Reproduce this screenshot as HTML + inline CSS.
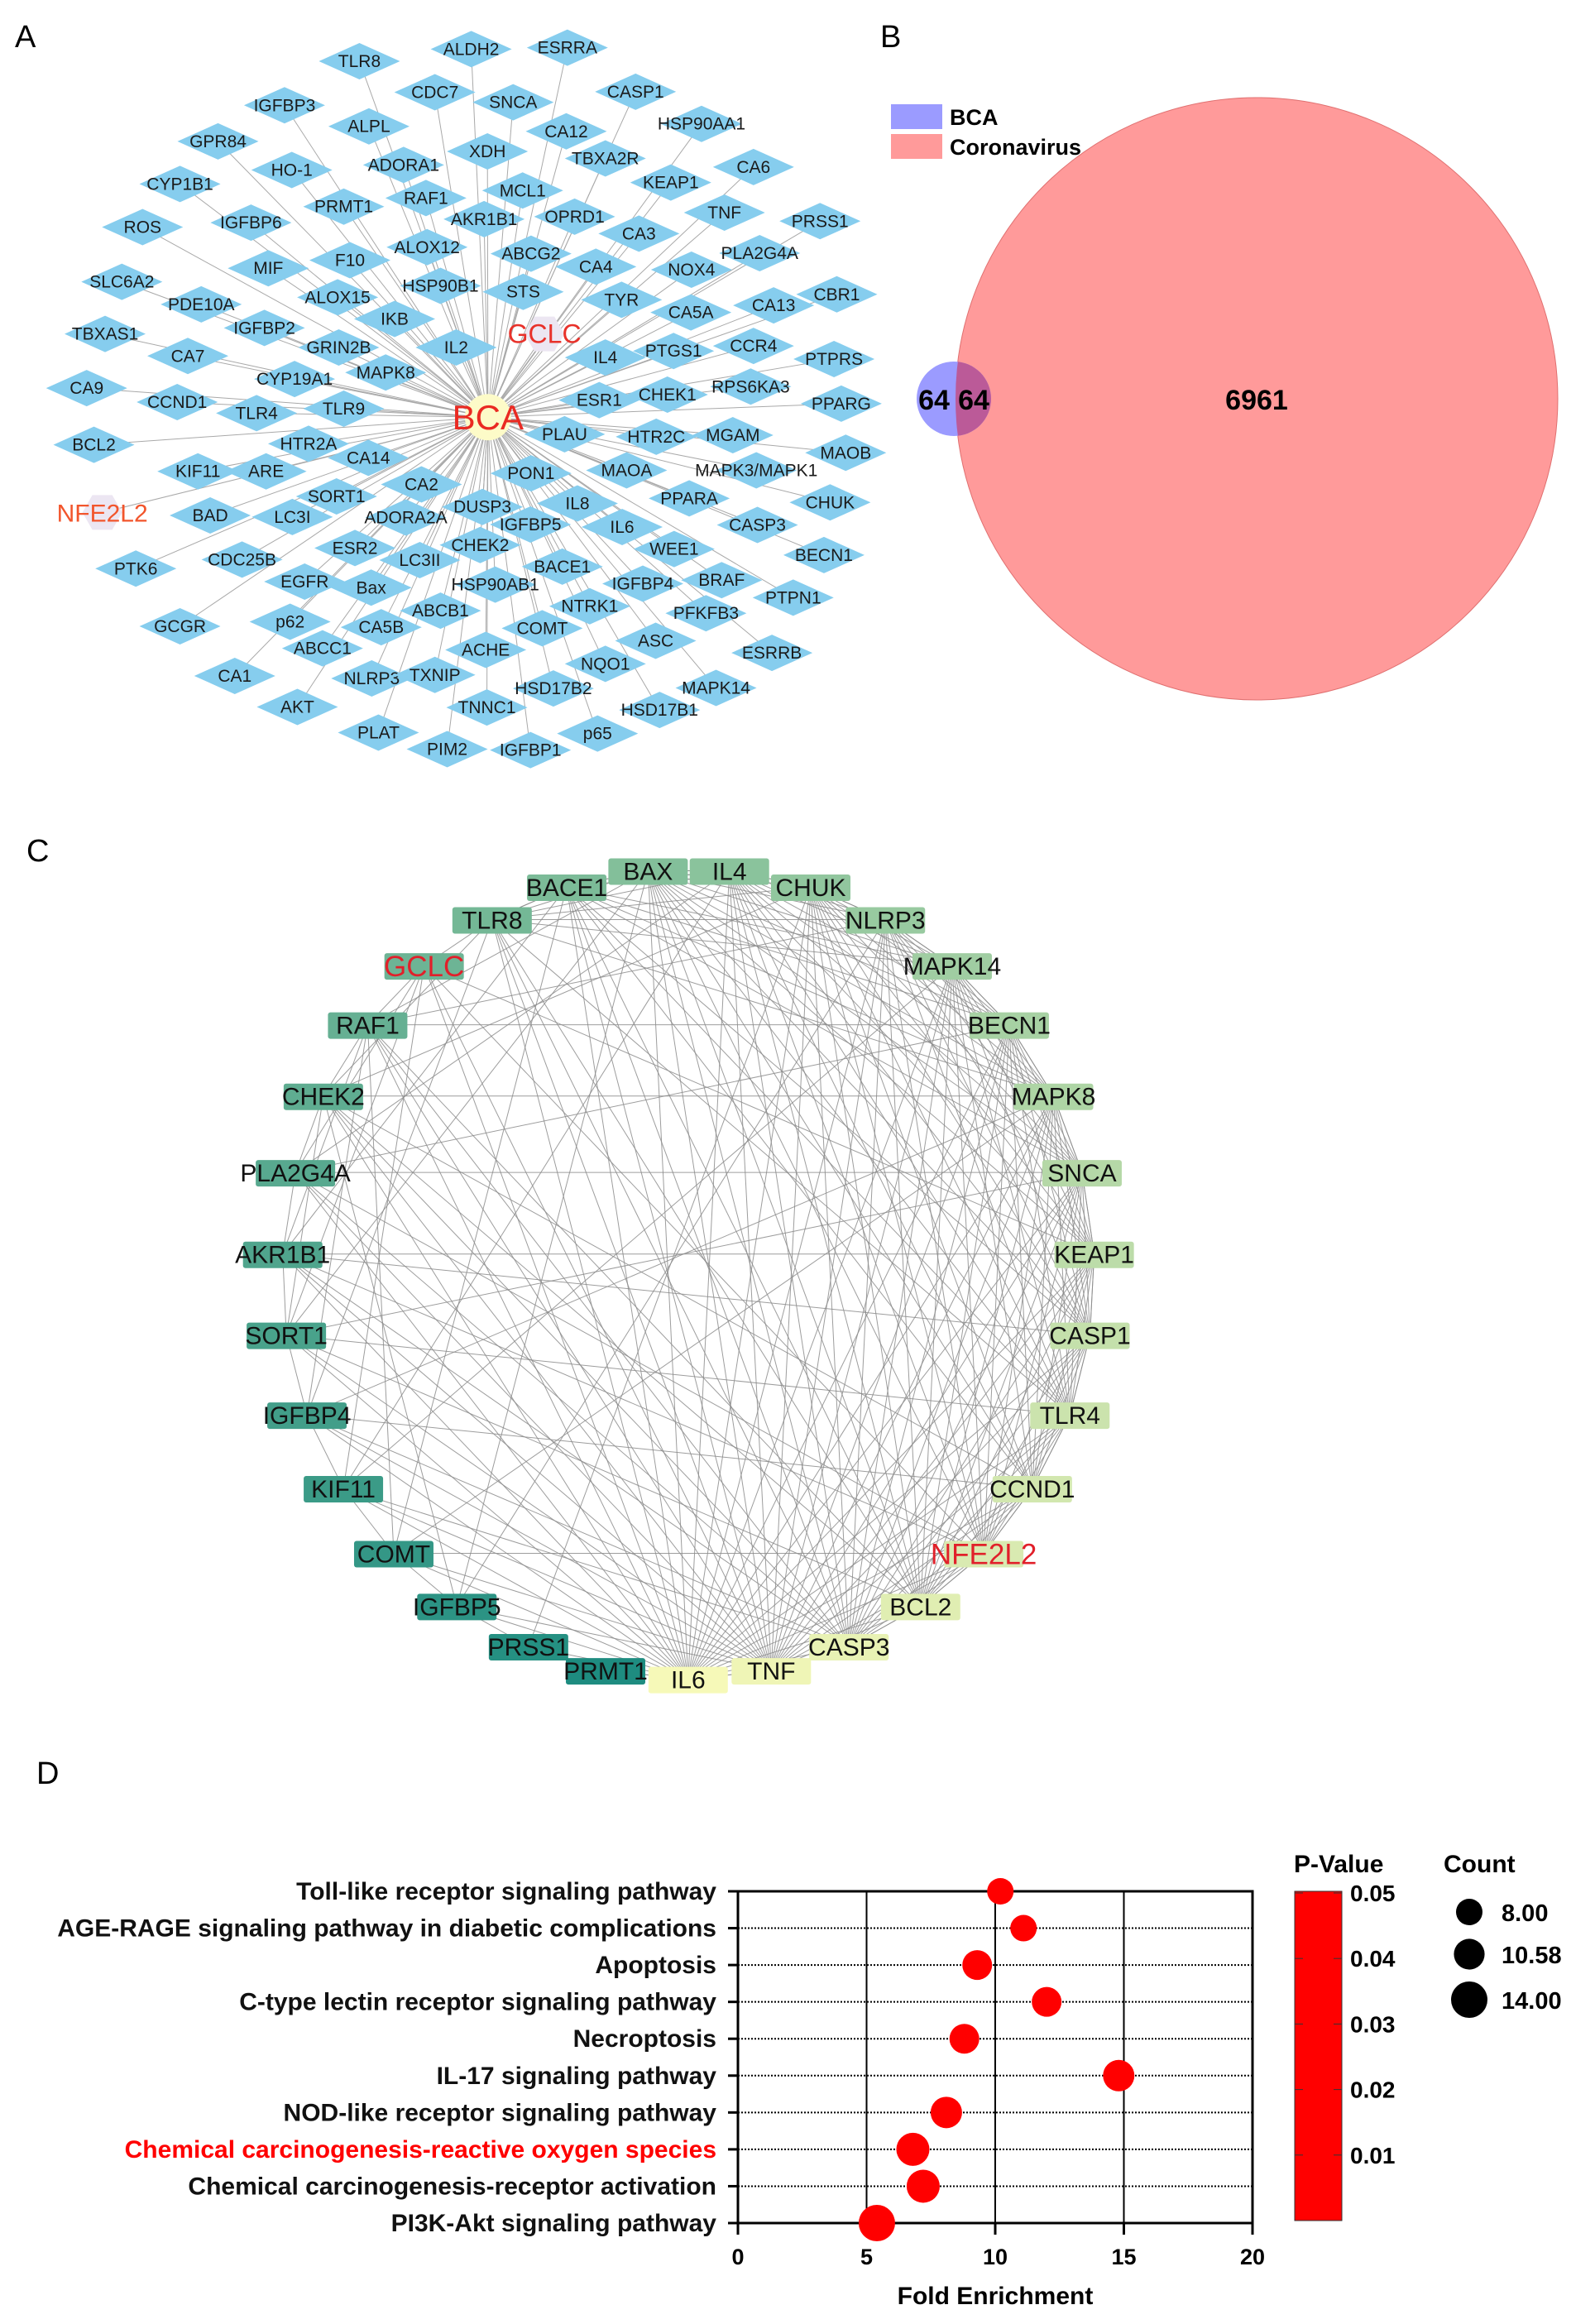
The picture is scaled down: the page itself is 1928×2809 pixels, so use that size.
<!DOCTYPE html>
<html><head><meta charset="utf-8">
<style>
html,body{margin:0;padding:0;background:#fff;}
svg{display:block;font-family:"Liberation Sans",Arial,sans-serif;}
</style></head>
<body>
<svg id="fig" width="1928" height="2809" viewBox="0 0 1928 2809" xmlns="http://www.w3.org/2000/svg">
<text x="18" y="57" font-size="38">A</text>
<text x="1064" y="57" font-size="38">B</text>
<text x="32" y="1041" font-size="38">C</text>
<text x="44" y="2156" font-size="38">D</text>
<g id="panelA"></g>
<g id="panelB"></g>
<g id="panelC"></g>
<g id="panelD"></g>
</svg>
<script>
const NS="http://www.w3.org/2000/svg";
function mk(tag,attrs,parent){const e=document.createElementNS(NS,tag);for(const k in attrs)e.setAttribute(k,attrs[k]);if(parent)parent.appendChild(e);return e;}

/* ---------- Panel A ---------- */
const aNames=["TLR8","ALDH2","ESRRA","CDC7","SNCA","CASP1","IGFBP3","ALPL","CA12","HSP90AA1","GPR84","XDH","TBXA2R","HO-1","ADORA1","CA6","CYP1B1","KEAP1","MCL1","RAF1","PRMT1","AKR1B1","OPRD1","TNF","PRSS1","ROS","IGFBP6","CA3","ALOX12","ABCG2","PLA2G4A","MIF","F10","CA4","NOX4","SLC6A2","HSP90B1","STS","ALOX15","TYR","CBR1","PDE10A","CA5A","CA13","IKB","IGFBP2","TBXAS1","IL2","GRIN2B","IL4","PTGS1","CCR4","PTPRS","CA7","CYP19A1","MAPK8","CA9","RPS6KA3","CHEK1","ESR1","PPARG","CCND1","TLR4","TLR9","PLAU","HTR2C","MGAM","BCL2","HTR2A","MAOB","CA14","KIF11","ARE","PON1","MAOA","MAPK3/MAPK1","CA2","PPARA","CHUK","SORT1","BAD","LC3I","ADORA2A","DUSP3","IL8","IGFBP5","IL6","CASP3","BECN1","ESR2","CHEK2","WEE1","CDC25B","LC3II","BACE1","PTK6","EGFR","Bax","HSP90AB1","IGFBP4","BRAF","PTPN1","ABCB1","NTRK1","PFKFB3","GCGR","p62","CA5B","COMT","ASC","ESRRB","ABCC1","ACHE","CA1","NLRP3","TXNIP","NQO1","HSD17B2","MAPK14","AKT","TNNC1","HSD17B1","PLAT","p65","PIM2","IGFBP1"];
const aZX=[643,843,1015,778,918,1137,509,660,1013,1255,390,872,1083,522,722,1348,322,1200,935,762,615,866,1028,1296,1467,255,449,1143,764,950,1359,480,626,1066,1237,218,788,936,604,1112,1497,360,1236,1384,706,473,188,816,606,1083,1205,1348,1492,336,527,690,155,1343,1194,1072,1505,317,459,615,1010,1174,1311,168,552,1513,659,354,476,950,1121,1353,754,1233,1485,602,376,523,726,863,1033,949,1113,1355,1474,635,859,1206,433,751,1006,243,545,664,886,1150,1291,1419,788,1055,1263,322,519,682,970,1173,1381,577,869,420,665,778,1083,990,1281,532,871,1180,677,1069,800,949];
const aZY=[122,98,95,184,204,183,210,252,262,247,282,302,316,339,329,333,367,364,380,395,412,437,432,424,441,453,444,466,493,506,505,535,519,532,538,562,570,582,593,598,587,607,623,609,636,654,666,693,693,713,700,690,716,710,756,743,774,771,787,798,805,802,824,815,866,871,868,887,885,903,913,940,940,944,938,938,966,994,1002,990,1028,1031,1032,1011,1004,1046,1051,1047,1107,1093,1087,1095,1116,1117,1130,1134,1160,1172,1166,1164,1157,1192,1218,1209,1223,1249,1240,1251,1253,1278,1302,1293,1296,1348,1353,1346,1324,1373,1372,1410,1411,1416,1461,1463,1494,1496];
const A=document.getElementById('panelA');
const cx=873/1.48, cy=832/1.65;
const gE=mk('g',{stroke:'#a9a9a9','stroke-width':1},A);


const specials=[["GCLC",974,666,"#e8312a",32],["NFE2L2",183,1022,"#f2552c",30]];
for(let i=0;i<aNames.length;i++){
  mk('line',{x1:cx,y1:cy,x2:aZX[i]/1.48,y2:aZY[i]/1.65},gE);
}
for(const s of specials){ mk('line',{x1:cx,y1:cy,x2:s[1]/1.48,y2:s[2]/1.65},gE); }
for(let i=0;i<aNames.length;i++){
  const x=aZX[i]/1.48,y=aZY[i]/1.65;
  const g=mk('g',{},A);
  
  
  mk('polygon',{points:`${x-49},${y} ${x},${y-22} ${x+49},${y} ${x},${y+22}`,fill:'#86cdee'},g);
  const t=mk('text',{x:x,y:y+7,'font-size':21,'text-anchor':'middle',fill:'#1a1a1a'},g);
  t.textContent=aNames[i];
}
for(const s of specials){
  const x=s[1]/1.48,y=s[2]/1.65;
  const g=mk('g',{},A);
  
  
  mk('polygon',{points:`${x-24},${y} ${x-12},${y-21} ${x+12},${y-21} ${x+24},${y} ${x+12},${y+21} ${x-12},${y+21}`,fill:'#ece6f2'},g);
  const t=mk('text',{x:x,y:y+11,'font-size':s[4],'text-anchor':'middle',fill:s[3]},g);
  t.textContent=s[0];
}
{
  const g=mk('g',{},A);
  
  
  mk('circle',{cx:cx,cy:cy,r:28,fill:'#fdfbc8'},g);
  const t=mk('text',{x:cx,y:cy+15,'font-size':42,'text-anchor':'middle',fill:'#ea2a22'},g);
  t.textContent="BCA";
}

/* ---------- Panel B ---------- */
const vennLabels=["BCA","Coronavirus"];
const vennCounts=[64,64,6961];
const B=document.getElementById('panelB');
{
  const big=mk('circle',{cx:1519,cy:482,r:364,fill:'#ff9a9a',stroke:'#e07070','stroke-width':1},B);
  
  
  const defs=mk('defs',{},B);
  const cp=mk('clipPath',{id:'bigclip'},defs);
  mk('circle',{cx:1519,cy:482,r:364},cp);
  const sm=mk('circle',{cx:1153,cy:482,r:45,fill:'#9b9bff'},B);
  
  
  const ov=mk('circle',{cx:1153,cy:482,r:45,fill:'#bb5a98','clip-path':'url(#bigclip)'},B);
  
  
  const pos=[[1129,495],[1177,495],[1519,495]];
  vennCounts.forEach((v,i)=>{
    const t=mk('text',{x:pos[i][0],y:pos[i][1],'font-size':34,'font-weight':'bold','text-anchor':'middle'},B);
    
    
    t.textContent=v;
  });
  const cols=['#9b9bff','#ff9a9a'];
  vennLabels.forEach((l,i)=>{
    const r=mk('rect',{x:1077,y:126+i*36,width:62,height:30,fill:cols[i]},B);
    
    
    const t=mk('text',{x:1148,y:151+i*36,'font-size':27,'font-weight':'bold'},B);
    
    
    t.textContent=l;
  });
}

/* ---------- Panel C ---------- */
const cNames=["IL6","TNF","CASP3","BCL2","NFE2L2","CCND1","TLR4","CASP1","KEAP1","SNCA","MAPK8","BECN1","MAPK14","NLRP3","CHUK","IL4","BAX","BACE1","TLR8","GCLC","RAF1","CHEK2","PLA2G4A","AKR1B1","SORT1","IGFBP4","KIF11","COMT","IGFBP5","PRSS1","PRMT1"];
const cZX=[793,930,1058,1176,1280,1360,1422,1455,1462,1442,1395,1322,1228,1118,995,861,727,593,470,358,265,192,146,125,131,165,225,308,412,530,657];
const cZY=[1497,1482,1440,1370,1278,1165,1037,898,757,615,482,358,255,175,118,90,90,118,175,255,358,482,615,757,898,1037,1165,1278,1370,1440,1482];
const cEdges=[
 [0,"1 2 3 4 5 6 7 8 9 10 11 12 13 14 15 16 17 18 19 20 21 22 23 24 25 26 27 28 29 30"],
 [1,"2 3 4 5 6 7 8 9 10 11 12 13 14 15 16 17 18 19 20 21 22 23 24 25 26 27 28"],
 [2,"3 4 5 6 7 8 9 10 11 12 13 14 15 16 17 18 20 21 22 23 25 26"],
 [3,"4 5 6 7 8 9 10 11 12 13 14 15 16 17 18 20 21 24"],
 [4,"5 6 7 8 9 10 11 12 13 14 15 16 19 22 23 27"],
 [5,"6 7 8 9 10 11 12 14 15 16 17 21 25"],
 [6,"7 8 9 10 11 12 13 14 15 16 17 18 24"],
 [7,"8 9 10 11 12 13 14 15 16 17 23"],
 [8,"9 10 11 12 13 14 15 16 19 23"],
 [9,"10 11 12 13 14 15 16 17 22 24"],
 [10,"11 12 13 14 15 16 17 18 21 25 27"],
 [11,"12 13 14 15 16 17 20 22"],
 [12,"13 14 15 16 17 18 26"],
 [13,"14 15 16 18 20 28"],
 [14,"15 16 18 21 29"],
 [15,"16 17 18 22 26"],
 [16,"17 18 20 24 28"],
 [17,"18 23 27"],
 [18,"21 25"],
 [19,"22 24 26"],
 [20,"23 25 27"],
 [21,"24 28"]
];
const C=document.getElementById('panelC');
const cX=i=>250+cZX[i]/1.363, cY=i=>990+cZY[i]/1.44;
const gC=mk('g',{stroke:'#8c8c8c','stroke-width':1,fill:'none','stroke-opacity':0.85},C);


for(let i=0;i<cNames.length;i++){
  const j=(i+1)%cNames.length;
  mk('line',{x1:cX(i),y1:cY(i),x2:cX(j),y2:cY(j)},gC);
}
for(const [a,list] of cEdges){
  for(const b of list.split(' ').map(Number)){
    mk('line',{x1:cX(a),y1:cY(a),x2:cX(b),y2:cY(b)},gC);
  }
}
function lerp(a,b,t){return Math.round(a+(b-a)*t);}
const c0=[246,249,184],c1=[30,140,128];
for(let i=0;i<cNames.length;i++){
  const t=i/(cNames.length-1);
  const col=`rgb(${lerp(c0[0],c1[0],t)},${lerp(c0[1],c1[1],t)},${lerp(c0[2],c1[2],t)})`;
  const x=cX(i),y=cY(i);
  const g=mk('g',{},C);
  
  
  const red=(cNames[i]==="GCLC"||cNames[i]==="NFE2L2");
  mk('rect',{x:x-48,y:y-15,width:96,height:32,rx:3,fill:col},g);
  const tx=mk('text',{x:x,y:y+(red?13:11),'font-size':red?35:30,'text-anchor':'middle',fill:red?'#e1202a':'#111'},g);
  tx.textContent=cNames[i];
}

/* ---------- Panel D ---------- */
const pathways=["Toll-like receptor signaling pathway","AGE-RAGE signaling pathway in diabetic complications","Apoptosis","C-type lectin receptor signaling pathway","Necroptosis","IL-17 signaling pathway","NOD-like receptor signaling pathway","Chemical carcinogenesis-reactive oxygen species","Chemical carcinogenesis-receptor activation","PI3K-Akt signaling pathway"];
const foldEnrichment=[10.2,11.1,9.3,12.0,8.8,14.8,8.1,6.8,7.2,5.4];
const geneCount=[8,8,10,10,10,11,11,12,12,14];
const pValues=[0.004,0.003,0.002,0.003,0.002,0.001,0.001,0.001,0.001,0.004];
const xTicks=[0,5,10,15,20];
const pTicks=[0.05,0.04,0.03,0.02,0.01];
const sizeLegend=[8.00,10.58,14.00];
const D=document.getElementById('panelD');
const X0=892,X1=1514,Y0=2286,Y1=2687;
const xs=v=>X0+(v-0)/(20-0)*(X1-X0);
const ys=i=>Y0+i*(Y1-Y0)/(pathways.length-1);
const rs=c=>16+(c-8)/6*6;
const ps=p=>2684-(p/0.05)*(2684-2288);
xTicks.forEach(v=>{ if(v>0&&v<20){const l=mk('line',{x1:xs(v),y1:Y0,x2:xs(v),y2:Y1,stroke:'#000','stroke-width':2},D);
 
 }});
pathways.forEach((p,i)=>{
  const y=ys(i);
  if(i>0&&i<pathways.length-1){const l=mk('line',{x1:X0,y1:y,x2:X1,y2:y,stroke:'#000','stroke-width':2,'stroke-dasharray':'2 2'},D);
  
  }
  mk('line',{x1:X0-12,y1:y,x2:X0,y2:y,stroke:'#000','stroke-width':3},D);
  const t=mk('text',{x:X0-26,y:y+10,'font-size':30,'font-weight':'bold','text-anchor':'end',fill:i===7?'#f00':'#111'},D);
  
  
  t.textContent=p;
});
{
  const fr=mk('path',{d:`M${X0},${Y0} H${X1} V${Y1} H${X0} Z`,fill:'none',stroke:'#000','stroke-width':3},D);
  
  
}
xTicks.forEach(v=>{
  mk('line',{x1:xs(v),y1:Y1,x2:xs(v),y2:Y1+14,stroke:'#000','stroke-width':3},D);
  const t=mk('text',{x:xs(v),y:2737,'font-size':27,'font-weight':'bold','text-anchor':'middle'},D);
  
  
  t.textContent=v;
});
{
  const t=mk('text',{x:(X0+X1)/2,y:2785,'font-size':30,'font-weight':'bold','text-anchor':'middle'},D);
  
  
  t.textContent="Fold Enrichment";
}
pathways.forEach((p,i)=>{
  const c=mk('circle',{cx:xs(foldEnrichment[i]),cy:ys(i),r:rs(geneCount[i]),fill:'#ff0000'},D);
  
  
});
{
  const r=mk('rect',{x:1565,y:2286,width:57,height:398,fill:'#ff0000',stroke:'#333','stroke-width':1},D);
  
  
  const t=mk('text',{x:1564,y:2263,'font-size':30,'font-weight':'bold'},D);
  
  
  t.textContent="P-Value";
  pTicks.forEach(p=>{
    const y=ps(p);
    mk('line',{x1:1565,y1:y,x2:1575,y2:y,stroke:'#333','stroke-width':1},D);
    mk('line',{x1:1612,y1:y,x2:1622,y2:y,stroke:'#333','stroke-width':1},D);
    const l=mk('text',{x:1632,y:y+10,'font-size':28,'font-weight':'bold'},D);
    
    
    l.textContent=p.toFixed(2);
  });
  const ct=mk('text',{x:1745,y:2263,'font-size':30,'font-weight':'bold'},D);
  
  
  ct.textContent="Count";
  const ly=[2311,2362,2417];
  sizeLegend.forEach((s,i)=>{
    const c=mk('circle',{cx:1776,cy:ly[i],r:rs(s),fill:'#000'},D);
    
    
    const l=mk('text',{x:1815,y:ly[i]+11,'font-size':29,'font-weight':'bold'},D);
    
    
    l.textContent=s.toFixed(2);
  });
}
</script>
</body></html>
